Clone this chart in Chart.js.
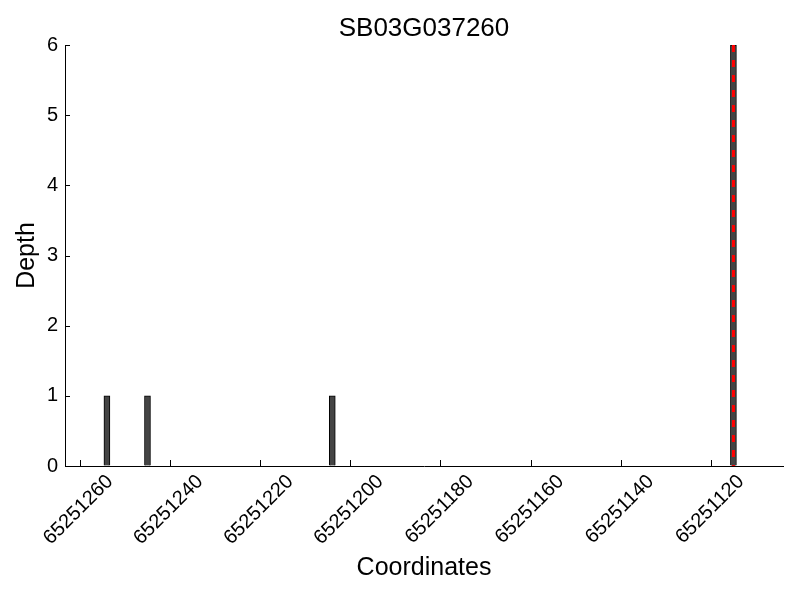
<!DOCTYPE html>
<html>
<head>
<meta charset="utf-8">
<script src="https://cdn.jsdelivr.net/npm/chart.js@4/dist/chart.umd.min.js"></script>
<style>
  html, body { margin: 0; padding: 0; background: #fff; }
  #wrap { width: 800px; height: 600px; }
</style>
</head>
<body>
<div id="wrap"><canvas id="c" width="800" height="600"></canvas></div>
<script>
const chartTitle = 'SB03G037260';
const positions = [65251254, 65251245, 65251204, 65251115];
const depths = [1, 1, 1, 6];
const markerPositions = [65251115];
const markerDepths = [6, 0];
const xTickValues = [65251260, 65251240, 65251220, 65251200, 65251180, 65251160, 65251140, 65251120];
const yTickValues = [0, 1, 2, 3, 4, 5, 6];
const xRange = [65251104, 65251263.3];

const FONT = 'Liberation Sans, Arial, Helvetica, sans-serif';

const barData = positions.map((p, i) => ({ x: p, y: depths[i] }));
const markerData = markerDepths.map(d => ({ x: markerPositions[0], y: d }));

const inwardTicks = {
  id: 'inwardTicks',
  afterDraw(chart) {
    const ctx = chart.ctx;
    const xs = chart.scales.x, ys = chart.scales.y;
    const area = chart.chartArea;
    ctx.save();
    ctx.strokeStyle = '#000';
    ctx.lineWidth = 1;
    ctx.beginPath();
    xTickValues.forEach(v => {
      const px = Math.round(xs.getPixelForValue(v)) + 0.5;
      ctx.moveTo(px, area.bottom);
      ctx.lineTo(px, area.bottom - 6);
    });
    yTickValues.forEach(v => {
      const py = Math.round(ys.getPixelForValue(v)) + 0.5;
      ctx.moveTo(area.left, py);
      ctx.lineTo(area.left + 5, py);
    });
    ctx.stroke();
    // title centred over the plot area
    ctx.fillStyle = '#000';
    ctx.font = '26px ' + FONT;
    ctx.textAlign = 'center';
    ctx.textBaseline = 'alphabetic';
    ctx.fillText(chartTitle, (area.left + area.right) / 2, 36);
    ctx.restore();
  }
};

new Chart(document.getElementById('c'), {
  data: {
    datasets: [
      {
        type: 'bar',
        data: barData,
        backgroundColor: '#444444',
        borderColor: '#000000',
        borderWidth: 1,
        barThickness: 6,
        order: 2
      },
      {
        type: 'line',
        data: markerData,
        borderColor: '#ff0000',
        borderWidth: 3,
        borderDash: [7, 8],
        pointRadius: 0,
        fill: false,
        order: 1
      }
    ]
  },
  options: {
    responsive: false,
    animation: false,
    devicePixelRatio: 1,
    layout: { padding: { left: 0, right: 17, top: 45, bottom: 0 } },
    plugins: {
      legend: { display: false },
      tooltip: { enabled: false },
      title: { display: false }
    },
    scales: {
      x: {
        type: 'linear',
        reverse: true,
        offset: false,
        min: xRange[0],
        max: xRange[1],
        afterBuildTicks: s => { s.ticks = xTickValues.map(v => ({ value: v })); },
        afterFit: s => { s.height = 134; },
        grid: { display: true, drawOnChartArea: false, drawTicks: false, offset: false },
        border: { display: true, color: '#000', width: 1 },
        ticks: {
          color: '#000',
          font: { family: FONT, size: 20 },
          minRotation: 45,
          maxRotation: 45,
          autoSkip: false,
          padding: 4,
          labelOffset: 30,
          callback: v => String(v)
        },
        title: {
          display: true,
          text: 'Coordinates',
          color: '#000',
          font: { family: FONT, size: 25 },
          padding: { top: 0, bottom: 17 }
        }
      },
      y: {
        type: 'linear',
        min: 0,
        max: 6,
        afterBuildTicks: s => { s.ticks = yTickValues.map(v => ({ value: v })); },
        afterFit: s => { s.width = 65; },
        grid: { display: true, drawOnChartArea: false, drawTicks: false },
        border: { display: true, color: '#000', width: 1 },
        ticks: {
          color: '#000',
          font: { family: FONT, size: 20 },
          padding: 7
        },
        title: {
          display: true,
          text: 'Depth',
          color: '#000',
          font: { family: FONT, size: 25 },
          padding: { top: 12, bottom: 0 }
        }
      }
    }
  },
  plugins: [inwardTicks]
});
</script>
</body>
</html>
